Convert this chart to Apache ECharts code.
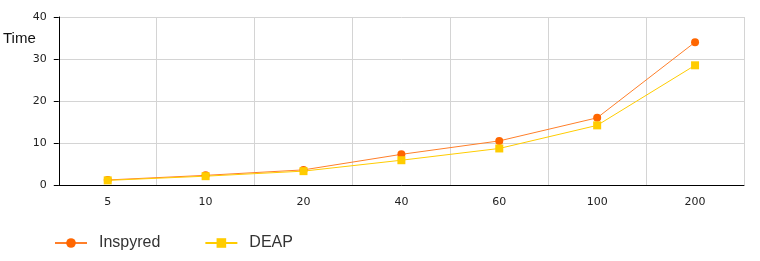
<!DOCTYPE html>
<html><head><meta charset="utf-8">
<script src="https://cdn.jsdelivr.net/npm/echarts@6/dist/echarts.min.js"></script>
<style>html,body{margin:0;padding:0;background:#fff}#c{width:760px;height:261px}</style>
</head><body><div id="c"></div>
<script>
const categories = ['5', '10', '20', '40', '60', '100', '200'];
const inspyred = [1.2, 2.3, 3.6, 7.3, 10.5, 16.0, 34.0];
const deap = [1.1, 2.1, 3.3, 5.9, 8.7, 14.2, 28.5];
const seriesNames = ['Inspyred', 'DEAP'];

const chart = echarts.init(document.getElementById('c'), null, {renderer: 'canvas'});
chart.setOption({
  animation: false,
  grid: {left: 55, right: 16, top: 17, bottom: 76, containLabel: false},
  legend: {
    left: 49, top: 230, itemWidth: 32, itemHeight: 12, itemGap: 44,
    textStyle: {fontFamily: 'Liberation Sans', fontSize: 16, color: '#333', padding: [0, 0, 0, 7]},
    data: seriesNames
  },
  xAxis: {
    type: 'category', data: categories, boundaryGap: true,
    axisLine: {lineStyle: {color: '#000', width: 1}},
    axisTick: {alignWithLabel: true, length: 5, lineStyle: {color: '#000'}},
    axisLabel: {fontFamily: 'DejaVu Sans', fontSize: 11, color: '#222', margin: 12},
    splitLine: {show: true, lineStyle: {color: '#d4d4d4'}}
  },
  yAxis: {
    type: 'value', min: 0, max: 40, interval: 10,
    name: 'Time', nameLocation: 'end', nameGap: 0,
    nameTextStyle: {fontFamily: 'Liberation Sans', fontSize: 15, color: '#111', align: 'right', verticalAlign: 'top', padding: [14, 23, 0, 0]},
    axisLine: {show: true, lineStyle: {color: '#000', width: 1}},
    axisTick: {show: true, length: 5, lineStyle: {color: '#000'}},
    axisLabel: {fontFamily: 'DejaVu Sans', fontSize: 11, color: '#222', margin: 12},
    splitLine: {show: true, lineStyle: {color: '#d4d4d4'}}
  },
  series: [
    {name: seriesNames[0], type: 'line', data: inspyred, color: '#FF6600',
     symbol: 'circle', symbolSize: 8, lineStyle: {width: 1, color: '#FF7F2A'},
     itemStyle: {color: '#FF6600'}},
    {name: seriesNames[1], type: 'line', data: deap, color: '#FFCC00',
     symbol: 'rect', symbolSize: 8, lineStyle: {width: 1, color: '#FFCC00'},
     itemStyle: {color: '#FFCC00'}}
  ]
});
</script></body></html>
